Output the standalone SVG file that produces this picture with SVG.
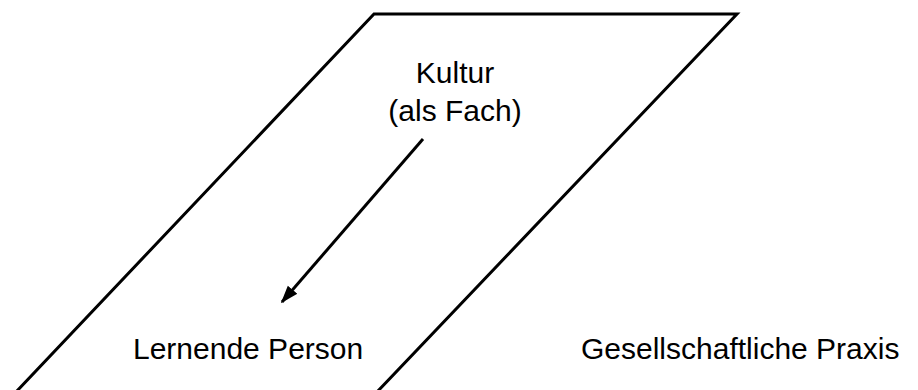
<svg xmlns="http://www.w3.org/2000/svg" width="918" height="390" viewBox="0 0 918 390">
<defs>
<style>
.t{font-family:"Liberation Sans",Arial,sans-serif;font-size:30px;fill:#000}
.ln{stroke:#000;stroke-width:3;fill:none}
</style>
<marker id="ah" viewBox="0 0 10 10" refX="9" refY="5" markerWidth="6" markerHeight="6" orient="auto" markerUnits="strokeWidth">
<path d="M0,1.5 L10,5 L0,8.5 z" fill="#000"/>
</marker>
</defs>
<rect width="918" height="390" fill="#fff"/>
<g id="praxis-field">
<path class="ln" d="M16,392 L374,14 L737,14 L377,392"/>
</g>
<g id="kultur">
<text class="t" x="455" y="83" text-anchor="middle">Kultur</text>
<text class="t" x="455" y="121" text-anchor="middle">(als Fach)</text>
</g>
<g id="lernende-person">
<text class="t" x="133" y="359">Lernende Person</text>
</g>
<g id="gesellschaftliche-praxis">
<text class="t" x="581" y="359">Gesellschaftliche Praxis</text>
</g>
<g id="connectors">
<line class="ln" x1="423" y1="139" x2="282" y2="302" marker-end="url(#ah)"/>
</g>
</svg>
